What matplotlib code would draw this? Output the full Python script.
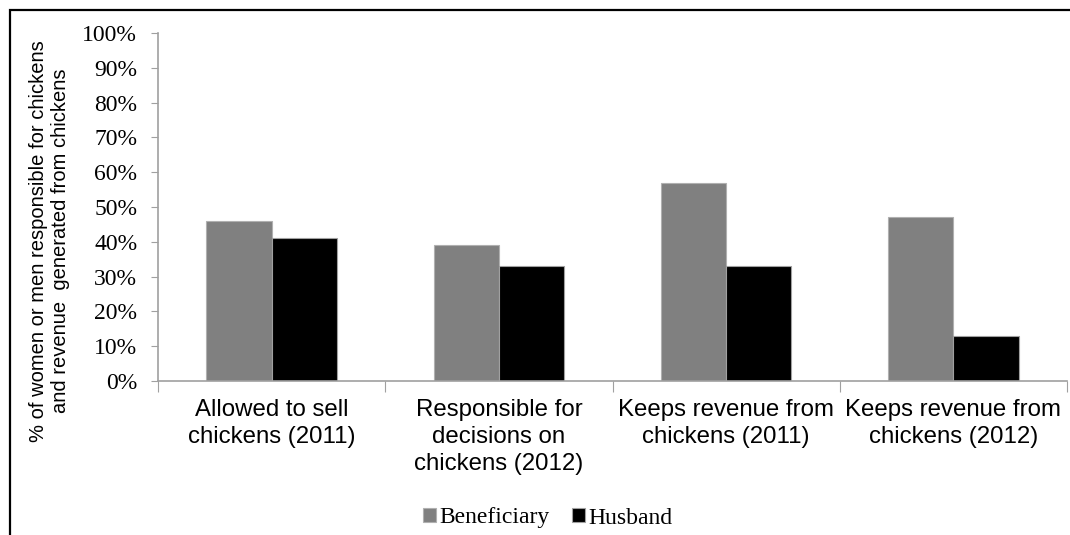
import numpy as np
import matplotlib.pyplot as plt
from matplotlib.patches import Rectangle
from matplotlib.ticker import PercentFormatter

categories = ["Allowed to sell\nchickens (2011)",
              "Responsible for\ndecisions on\nchickens (2012)",
              "Keeps revenue from\nchickens (2011)",
              "Keeps revenue from\nchickens (2012)"]
beneficiary = [46, 39, 57, 47]
husband = [41, 33, 33, 13]

fig = plt.figure(figsize=(10.7, 5.35), dpi=100)
ax = fig.add_axes([0.1477, 0.2879, 0.8495, 0.6504])

# outer frame around the whole chart
fig.patches.append(Rectangle((10 / 1070, -0.1), 1.2, 1.1 - 10 / 535,
                             transform=fig.transFigure, fill=False,
                             edgecolor="black", linewidth=1.6))

x = np.arange(len(categories))
w = 0.287
ax.bar(x - w / 2, beneficiary, w, color="#808080", edgecolor="#b0b0b0",
       linewidth=0.8, label="Beneficiary")
ax.bar(x + w / 2, husband, w, color="black", edgecolor="#a0a0a0",
       linewidth=0.8, label="Husband")

ax.set_xlim(-0.5, len(categories) - 0.5)
ax.set_ylim(0, 100)
ax.set_yticks(np.arange(0, 101, 10))
ax.yaxis.set_major_formatter(PercentFormatter(decimals=0))
for lab in ax.get_yticklabels():
    lab.set_family("Liberation Serif")
    lab.set_fontsize(17)

ax.set_xticks(np.arange(-0.5, len(categories), 1.0))
ax.set_xticklabels([])
ax.set_xticks(x, minor=True)
ax.set_xticklabels(categories, minor=True, family="Liberation Sans",
                   fontsize=17.3, linespacing=1.28, va="top")
ax.tick_params(axis="x", which="minor", length=0, pad=13)
ax.tick_params(axis="x", which="major", length=8, color="#a0a0a0")
ax.tick_params(axis="y", length=5, color="#a0a0a0", pad=10)

for s in ["top", "right"]:
    ax.spines[s].set_visible(False)
for s in ["left", "bottom"]:
    ax.spines[s].set_color("#a0a0a0")
    ax.spines[s].set_linewidth(1.2)

ax.set_ylabel("% of women or men responsible for chickens\nand revenue  generated from chickens",
              family="Liberation Sans", fontsize=14.5, linespacing=1.2)
ax.yaxis.label.set_va("center")
ax.yaxis.set_label_coords(-0.119, 0.402)

fig.legend(loc="center", bbox_to_anchor=(548 / 1070, 1 - 518 / 535), ncol=2,
           frameon=False, handlelength=0.55, handleheight=0.55,
           handletextpad=0.15, columnspacing=0.95,
           prop={"family": "Liberation Serif", "size": 17})

fig.savefig("out.png", dpi=100)
